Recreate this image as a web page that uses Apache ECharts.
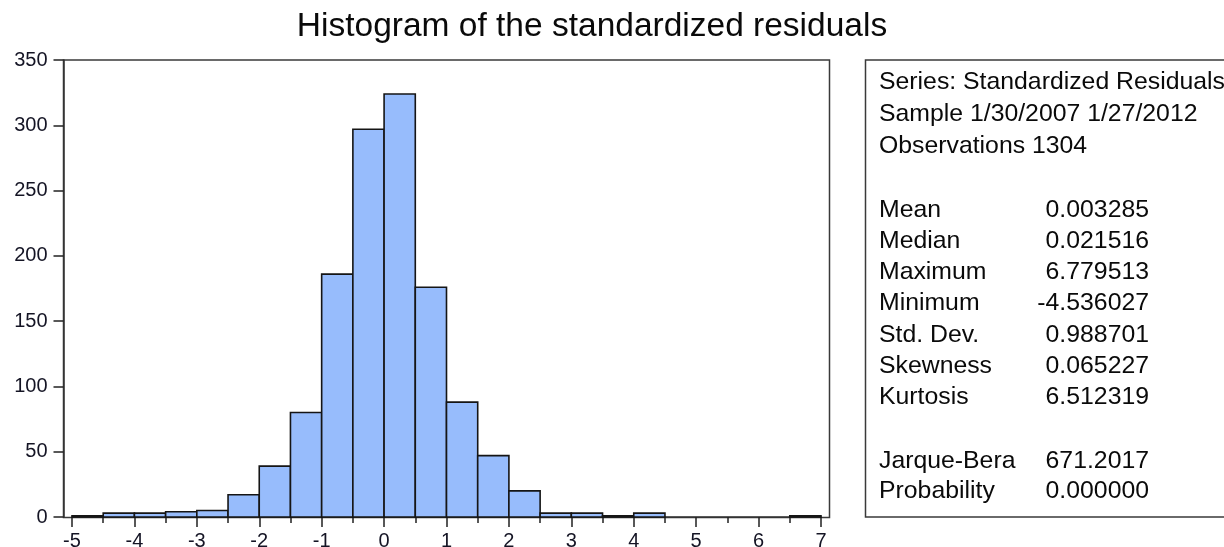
<!DOCTYPE html>
<html>
<head>
<meta charset="utf-8">
<script src="https://cdn.jsdelivr.net/npm/echarts@6/dist/echarts.min.js"></script>
<style>
  html, body { margin: 0; padding: 0; background: #fff; }
  #chart { width: 1224px; height: 547px; }
</style>
</head>
<body>
<div id="chart"></div>
<script>
// Histogram bins: left edge of each 0.5-wide bin and its frequency
const binStarts = [-5, -4.5, -4, -3.5, -3, -2.5, -2, -1.5, -1, -0.5, 0, 0.5,
                   1, 1.5, 2, 2.5, 3, 3.5, 4, 4.5, 5, 5.5, 6, 6.5];
const binCounts = [1, 3, 3, 4, 5, 17, 39, 80, 186, 297, 324, 176,
                   88, 47, 20, 3, 3, 1, 3, 0, 0, 0, 0, 1];
const binWidth = 0.5;

// Axis ticks
const xTickValues = [-5, -4, -3, -2, -1, 0, 1, 2, 3, 4, 5, 6, 7];
const yTickValues = [0, 50, 100, 150, 200, 250, 300, 350];

// Descriptive statistics panel
const statHeader = ['Series: Standardized Residuals', 'Sample 1/30/2007 1/27/2012', 'Observations 1304'];
const statNames = ['Mean', 'Median', 'Maximum', 'Minimum', 'Std. Dev.', 'Skewness', 'Kurtosis'];
const statValues = ['0.003285', '0.021516', '6.779513', '-4.536027', '0.988701', '0.065227', '6.512319'];
const testNames = ['Jarque-Bera', 'Probability'];
const testValues = ['671.2017', '0.000000'];

const FONT = '"Liberation Sans", Arial, sans-serif';
const LABEL_COLOR = '#141424';

const histData = binStarts.map((s, i) => [s, s + binWidth, binCounts[i]]);

// Panel text elements
const panelText = [];
const textX = 879, valueRight = 1149;
function addText(str, x, y, align) {
  panelText.push({
    type: 'text', x: x, y: y, silent: true,
    style: { text: str, fontSize: 24.8, fontFamily: FONT, fill: '#0a0a0a',
             align: align, verticalAlign: 'middle' }
  });
}
statHeader.forEach((t, i) => addText(t, textX, 82 + i * 32, 'left'));
statNames.forEach((t, i) => {
  addText(t, textX, 210 + i * 31.2, 'left');
  addText(statValues[i], valueRight, 210 + i * 31.2, 'right');
});
testNames.forEach((t, i) => {
  addText(t, textX, 461 + i * 30.5, 'left');
  addText(testValues[i], valueRight, 461 + i * 30.5, 'right');
});

const chart = echarts.init(document.getElementById('chart'), null, { renderer: 'canvas' });
chart.setOption({
  animation: false,
  backgroundColor: '#fff',
  title: {
    text: 'Histogram of the standardized residuals',
    left: 587, top: 5, textAlign: 'center',
    textStyle: { fontSize: 33.5, fontWeight: 'normal', color: '#0a0a0a', fontFamily: FONT }
  },
  grid: { left: 72, right: 403, top: 60, bottom: 30, outerBoundsMode: 'none', containLabel: false },
  xAxis: {
    type: 'value', min: -5, max: 7, interval: 1,
    axisLine: { show: true, lineStyle: { color: '#333', width: 1.5 } },
    axisTick: { show: true, inside: false, length: 10, lineStyle: { color: '#222', width: 1.5 } },
    minorTick: { show: true, splitNumber: 2, length: 6, lineStyle: { color: '#222', width: 1.5 } },
    splitLine: { show: false },
    axisLabel: {
      margin: 14, fontSize: 20, fontFamily: FONT, color: LABEL_COLOR,
      customValues: xTickValues, formatter: v => String(v)
    }
  },
  yAxis: {
    type: 'value', min: 0, max: 350, interval: 50, offset: 8.5,
    axisLine: { show: true, onZero: false, lineStyle: { color: '#333', width: 1.5 } },
    axisTick: { show: true, inside: false, length: 10, lineStyle: { color: '#222', width: 1.5 } },
    splitLine: { show: false },
    axisLabel: {
      margin: 16, fontSize: 20, fontFamily: FONT, color: LABEL_COLOR,
      customValues: yTickValues
    }
  },
  graphic: [
    { type: 'rect', silent: true, z: 0,
      shape: { x: 63.5, y: 60, width: 766, height: 457.5 },
      style: { fill: null, stroke: '#3a3a3a', lineWidth: 1.5 } },
    { type: 'rect', silent: true,
      shape: { x: 865.5, y: 60, width: 420, height: 457 },
      style: { fill: null, stroke: '#3a3a3a', lineWidth: 1.5 } }
  ].concat(panelText),
  series: [{
    type: 'custom',
    data: histData,
    encode: { x: [0, 1], y: 2 },
    renderItem: function (params, api) {
      const n = api.value(2);
      if (!n) return null;
      const top = api.coord([api.value(0), n]);
      const bottom = api.coord([api.value(1), 0]);
      return {
        type: 'rect',
        shape: { x: top[0], y: top[1], width: bottom[0] - top[0], height: bottom[1] - top[1] },
        style: { fill: '#97bcfc', stroke: '#151515', lineWidth: 1.6 }
      };
    }
  }]
});
</script>
</body>
</html>
